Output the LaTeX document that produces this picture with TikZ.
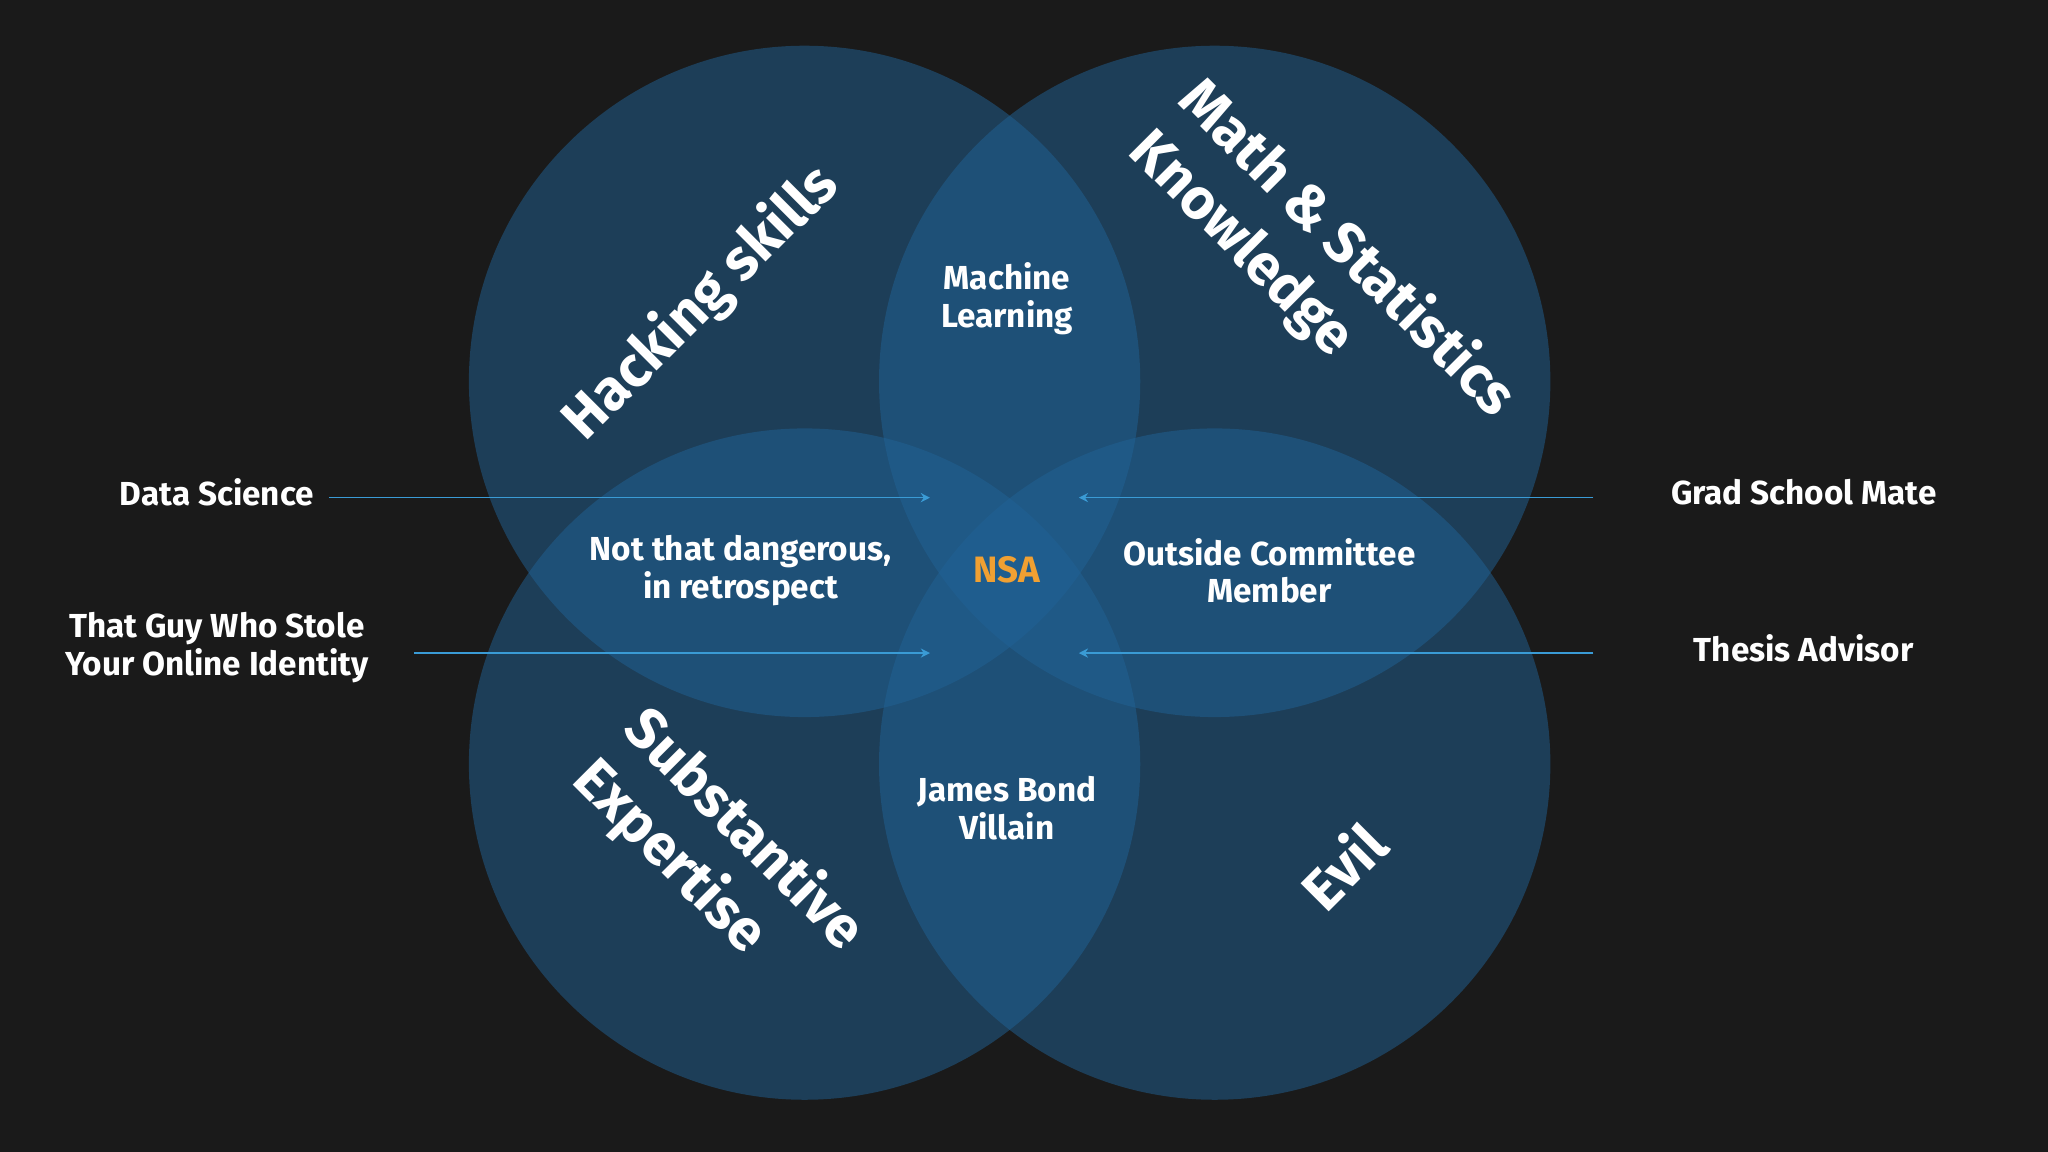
\documentclass[tikz,border=0pt]{standalone}
\usetikzlibrary{arrows.meta}
\usepackage{fontspec}
\setmainfont{Fira Sans}[UprightFont=* Bold]
\begin{document}
\begin{tikzpicture}[x=0.02cm,y=-0.02cm,
  circ/.style={fill={rgb,255:red,32;green,98;blue,150},fill opacity=0.5},
  lbl/.style={text=white,align=center,font=\fontsize{14.5}{16.5}\selectfont},
  big/.style={text=white,align=left,font=\fontsize{25}{31}\selectfont},
  arr/.style={draw={rgb,255:red,58;green,155;blue,213},line width=0.6pt,-{Stealth[length=4pt,width=4pt]}}]
\useasboundingbox[fill={rgb,255:red,26;green,26;blue,26}] (0,0) rectangle (1568,882);
\fill[circ] (616,292) circle (257);
\fill[circ] (930,292) circle (257);
\fill[circ] (616,585) circle (257);
\fill[circ] (930,585) circle (257);
\node[big,rotate=45] (hs) at (537,232) {Hacking skills};
\node[big,rotate=-45] (ms) at (1012,210) {Math \& Statistics\\Knowledge};
\node[big,rotate=-45] (se) at (550,655) {Substantive\\Expertise};
\node[big,rotate=45] (ev) at (1028,663) {Evil};
\node[lbl] (ml) at (771,229) {Machine\\Learning};
\node[lbl] (nd) at (567,437) {Not that dangerous,\\in retrospect};
\node[lbl,text={rgb,255:red,240;green,160;blue,50},font=\fontsize{16}{18}\selectfont] (nsa) at (771,436) {NSA};
\node[lbl] (oc) at (972,437) {Outside Committee\\Member};
\node[lbl] (jb) at (771,619) {James Bond\\Villain};
\node[lbl] (ds) at (166,377) {Data Science};
\node[lbl] (gs) at (1381,377) {Grad School Mate};
\node[lbl] (tg) at (166,496) {That Guy Who Stole\\Your Online Identity};
\node[lbl] (ta) at (1381,496) {Thesis Advisor};
\coordinate (dsA) at (712,381); \coordinate (gsA) at (826,381);
\coordinate (tgA) at (712,500); \coordinate (taA) at (826,500);
\draw[arr] (252,381) -- (dsA);
\draw[arr] (1220,381) -- (gsA);
\draw[arr] (317,500) -- (tgA);
\draw[arr] (1220,500) -- (taA);
\end{tikzpicture}
\end{document}
